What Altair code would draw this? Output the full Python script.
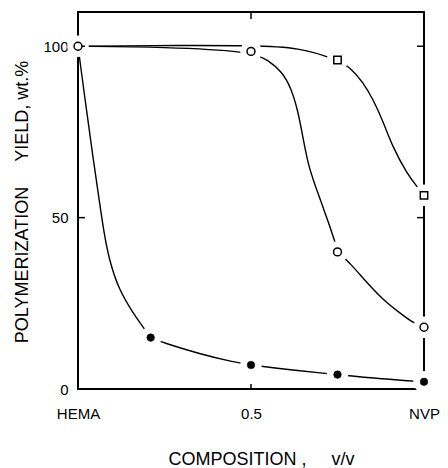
import altair as alt
import pandas as pd

# ---- data ----
# smooth curves
curve_open_x = [0.0, 0.25, 0.5, 0.55, 0.59, 0.615, 0.635, 0.65, 0.665, 0.685, 0.71, 0.735, 0.75, 0.786, 0.835, 0.882, 0.93, 0.968, 1.0]
curve_open_y = [100, 99.8, 98.5, 96.0, 92.5, 88.0, 81.5, 73.5, 65.5, 59.5, 52.5, 45.5, 40.0, 36.8, 31.0, 26.0, 22.2, 19.3, 18.0]

curve_square_x = [0.0, 0.3, 0.5, 0.64, 0.75, 0.786, 0.824, 0.853, 0.882, 0.91, 0.95, 0.98, 1.0]
curve_square_y = [100, 100.3, 100.2, 99.7, 96.0, 93.9, 89.5, 84.5, 78.0, 70.5, 63.0, 59.0, 56.5]

curve_filled_x = [0.0, 0.023, 0.043, 0.061, 0.075, 0.09, 0.118, 0.159, 0.19, 0.21, 0.246, 0.353, 0.448, 0.5, 0.64, 0.75, 0.88, 1.0]
curve_filled_y = [100, 82.5, 67.8, 55.3, 45.6, 37.7, 29.0, 22.2, 17.8, 15.0, 13.5, 10.2, 7.9, 7.0, 5.3, 4.2, 2.9, 2.1]

# markers
open_x = [0.0, 0.5, 0.75, 1.0]
open_y = [100, 98.5, 40, 18]
square_x = [0.75, 1.0]
square_y = [96, 56.5]
filled_x = [0.21, 0.5, 0.75, 1.0]
filled_y = [15, 7, 4.2, 2.1]

# axes
x_tick_vals = [0, 0.5, 1]
x_tick_labels = ["HEMA", "0.5", "NVP"]
y_tick_vals = [0, 50, 100]
x_inner_ticks = [0.5]
y_inner_ticks = [50, 100]

NB = "\u00a0"
x_title = "COMPOSITION" + NB + "," + NB * 5 + "v/v"
y_title = "POLYMERIZATION" + NB * 5 + "YIELD," + NB + "wt.%"

W, H = 346, 377
FONT = "Liberation Sans"

curves = pd.concat([
    pd.DataFrame({"x": curve_open_x, "y": curve_open_y, "s": "open"}),
    pd.DataFrame({"x": curve_square_x, "y": curve_square_y, "s": "square"}),
    pd.DataFrame({"x": curve_filled_x, "y": curve_filled_y, "s": "filled"}),
], ignore_index=True)
open_df = pd.DataFrame({"x": open_x, "y": open_y})
square_df = pd.DataFrame({"x": square_x, "y": square_y})
filled_df = pd.DataFrame({"x": filled_x, "y": filled_y})
halo_df = pd.DataFrame({"x": open_x + square_x + filled_x, "y": open_y + square_y + filled_y})

xs = alt.Scale(domain=[0, 1], nice=False)
ys = alt.Scale(domain=[0, 110], nice=False)

label_expr = " : ".join(
    f"datum.value == {v} ? '{t}'" for v, t in zip(x_tick_vals[:-1], x_tick_labels[:-1])
) + f" : '{x_tick_labels[-1]}'"

x_axis = alt.Axis(
    values=x_tick_vals, labelExpr=label_expr, ticks=False, domain=False, grid=False,
    labelFont=FONT, labelFontSize=15, labelColor="black", labelPadding=17,
    labelBaseline="top", labelFlush=False, labelOverlap=False, labelBound=False,
    title=x_title, titleFont=FONT, titleFontSize=18, titleFontWeight="normal",
    titleColor="black", titleX=183, titleY=70, titleAlign="center", titleBaseline="middle",
)
y_axis = alt.Axis(
    values=y_tick_vals, ticks=False, domain=False, grid=False,
    labelFont=FONT, labelFontSize=15, labelColor="black", labelPadding=10,
    labelFlush=False, labelOverlap=False, labelBound=False,
    title=y_title, titleFont=FONT, titleFontSize=18,
    titleFontWeight="normal", titleColor="black", titleAngle=270,
    titleX=-56, titleY=189.5, titleAlign="center", titleBaseline="middle",
)


def X(field):
    return alt.X(field, scale=xs, axis=x_axis)


def Y(field):
    return alt.Y(field, scale=ys, axis=y_axis)


lines = alt.Chart(curves).mark_line(color="black", strokeWidth=1.4, interpolate="basis").encode(
    x=X("x:Q"), y=Y("y:Q"), detail="s:N",
)

halo = alt.Chart(halo_df).mark_point(shape="circle", filled=True, fill="white", stroke="white",
                                     size=380, opacity=1).encode(
    x=X("x:Q"), y=Y("y:Q"))

yt = pd.DataFrame({"y": y_inner_ticks})
xt = pd.DataFrame({"x": x_inner_ticks})
tick_left = alt.Chart(yt).mark_rule(color="black", strokeWidth=1.5).encode(
    y=Y("y:Q"), x=alt.value(0), x2=alt.value(7))
tick_right = alt.Chart(yt).mark_rule(color="black", strokeWidth=1.5).encode(
    y=Y("y:Q"), x=alt.value(W - 7), x2=alt.value(W))
tick_top = alt.Chart(xt).mark_rule(color="black", strokeWidth=1.5).encode(
    x=X("x:Q"), y=alt.value(0), y2=alt.value(7))
tick_bottom = alt.Chart(xt).mark_rule(color="black", strokeWidth=1.5).encode(
    x=X("x:Q"), y=alt.value(H - 5), y2=alt.value(H))

open_pts = alt.Chart(open_df).mark_point(shape="circle", filled=True, fill="white",
                                         stroke="black", strokeWidth=1.5, size=62, opacity=1).encode(
    x=X("x:Q"), y=Y("y:Q"))
square_pts = alt.Chart(square_df).mark_point(shape="square", filled=True, fill="white",
                                             stroke="black", strokeWidth=1.5, size=55, opacity=1).encode(
    x=X("x:Q"), y=Y("y:Q"))
filled_pts = alt.Chart(filled_df).mark_point(shape="circle", filled=True, fill="black", stroke="black",
                                             strokeWidth=0.5, size=58, opacity=1).encode(
    x=X("x:Q"), y=Y("y:Q"))

chart = alt.layer(
    lines, halo, tick_left, tick_right, tick_top, tick_bottom, open_pts, square_pts, filled_pts
).properties(
    width=W, height=H,
    background="white",
    autosize=alt.AutoSizeParams(type="none"),
    padding={"left": 78, "top": 12, "right": 24, "bottom": 79},
).configure_view(
    stroke="black", strokeWidth=2, fill="white"
)

chart.save("out.html", embed_options={"renderer": "svg", "actions": False})
